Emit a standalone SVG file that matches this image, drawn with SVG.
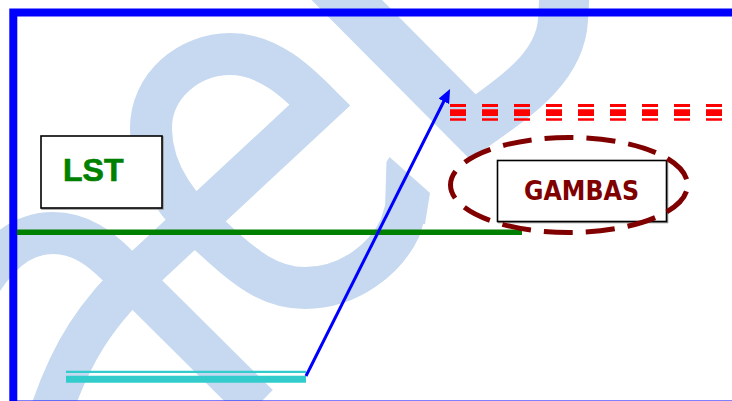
<svg xmlns="http://www.w3.org/2000/svg" width="732" height="401" viewBox="0 0 732 401">
<defs>
<style>
.wm{fill:none;stroke:#c6d9f0;stroke-linejoin:miter;stroke-miterlimit:10;stroke-linecap:butt}
.wmf{fill:#c6d9f0;stroke:none}
.box{fill:#ffffff;stroke:#000000;stroke-width:1.6}
.shadow{fill:none;stroke:#9a9a9a;stroke-width:1.6}
.red{fill:none;stroke:#ff0000;stroke-dasharray:16 16}
.cyan{stroke:#33cccc;fill:none}
</style>
<marker id="ah" viewBox="0 0 14 12" refX="5" refY="6" markerWidth="14" markerHeight="12" markerUnits="userSpaceOnUse" orient="auto">
<path d="M0,0 L14,6 L0,12 Z" fill="#0000ff"/>
</marker>
</defs>
<rect width="732" height="401" fill="#ffffff"/>
<g id="watermark">
<path class="wm" stroke-width="42" d="M 50,415 C 70,355 95,312 150,263 L 320,105 C 300,85 270,54 230,54 C 190,54 150,85 151,130 C 152,175 180,210 215,240 C 245,268 270,288 305,288 C 350,288 386,258 400,228 L 405,212"/>
<polygon class="wmf" points="384.5,224 386.5,162 389.5,157 430,193 425,224"/>
<path class="wm" stroke-width="50" d="M 322,-25 L 473,127 C 510,100 560,70 563,20 L 565,-15"/>
<path class="wm" stroke-width="42" d="M -30,300 C -5,255 20,233 53,233 C 80,233 100,248 118,266 L 258,405"/>
</g>
<g id="frame">
<rect x="13.3" y="12.5" width="800" height="392" fill="none" stroke="#0000ff" stroke-width="8"/>
</g>
<g id="connectors">
<line id="green-line" x1="17" y1="232.2" x2="522" y2="232.2" stroke="#008000" stroke-width="5.5"/>
<g id="red-line">
<line class="red" x1="450" y1="105.5" x2="732" y2="105.5" stroke-width="3"/>
<line class="red" x1="450" y1="112.6" x2="732" y2="112.6" stroke-width="6.8"/>
<line class="red" x1="450" y1="119.5" x2="732" y2="119.5" stroke-width="2.6"/>
</g>
<g id="cyan-line">
<line class="cyan" x1="66" y1="371.8" x2="306" y2="371.8" stroke-width="2.3"/>
<line class="cyan" x1="66" y1="379.2" x2="306" y2="379.2" stroke-width="7"/>
</g>
<line id="arrow" x1="306" y1="376" x2="446" y2="97" stroke="#0000ff" stroke-width="3" marker-end="url(#ah)"/>
</g>
<g id="node-lst">
<rect class="shadow" x="42" y="137" width="121" height="72"/>
<rect class="box" x="41" y="136" width="121" height="72"/>
<text x="63" y="181" font-family="Liberation Sans, Arial, sans-serif" font-weight="bold" font-size="32" fill="#008000" stroke="#008000" stroke-width="0.7">LST</text>
</g>
<g id="node-gambas">
<rect class="shadow" x="498.5" y="161.5" width="169" height="61"/>
<rect class="box" x="497.5" y="160.5" width="169" height="61"/>
<text x="581.5" y="200" text-anchor="middle" font-family="DejaVu Sans, sans-serif" font-weight="bold" font-size="26" fill="#800000" textLength="115" lengthAdjust="spacingAndGlyphs">GAMBAS</text>
<ellipse cx="569" cy="185" rx="118.5" ry="47.5" fill="none" stroke="#800000" stroke-width="5" stroke-dasharray="29 13" stroke-dashoffset="35.5"/>
</g>
</svg>
